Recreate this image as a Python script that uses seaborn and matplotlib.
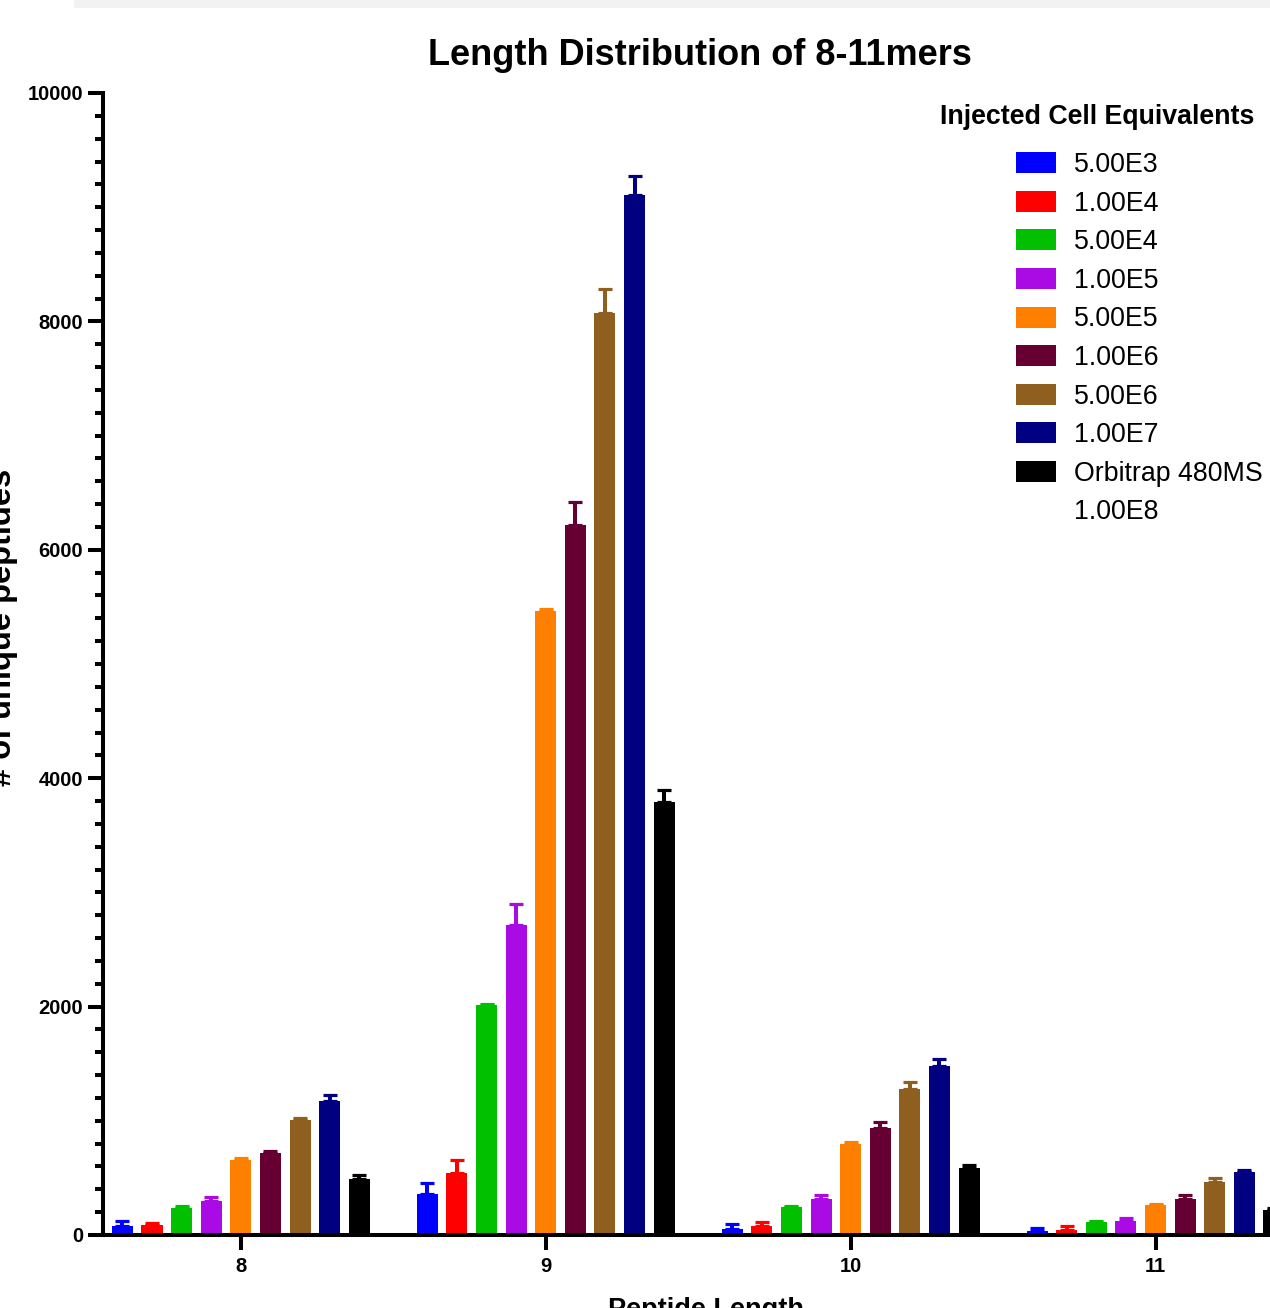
import numpy as np
import pandas as pd
import matplotlib
matplotlib.use("Agg")
import matplotlib.pyplot as plt
import seaborn as sns
from matplotlib.patches import Patch, Rectangle
from matplotlib.ticker import MultipleLocator

# Categories (x axis) and series (legend)
lengths = ["8", "9", "10", "11"]
series = ["5.00E3", "1.00E4", "5.00E4", "1.00E5", "5.00E5",
          "1.00E6", "5.00E6", "1.00E7", "Orbitrap 480MS\n1.00E8"]
colors = ["#0000FF", "#FF0000", "#00C000", "#AA0AE4", "#FF8000",
          "#660033", "#8F5F20", "#000080", "#000000"]

# Mean number of unique peptides per series, for lengths 8, 9, 10, 11
counts = [
    [80, 360, 55, 38],
    [85, 545, 80, 45],
    [235, 2010, 245, 115],
    [300, 2715, 312, 125],
    [660, 5465, 800, 265],
    [720, 6220, 940, 318],
    [1010, 8070, 1276, 462],
    [1175, 9110, 1480, 548],
    [490, 3795, 590, 220],
]
# Upper error (SD) per series, same order
errors = [
    [40, 95, 40, 25],
    [20, 110, 30, 30],
    [15, 15, 10, 10],
    [30, 185, 38, 25],
    [10, 15, 10, 10],
    [12, 200, 47, 35],
    [12, 210, 60, 38],
    [50, 165, 64, 23],
    [35, 105, 26, 20],
]

rows = []
for s, c_row, e_row in zip(series, counts, errors):
    for L, c, e in zip(lengths, c_row, e_row):
        rows.append({"length": L, "series": s, "count": c, "err": e})
df = pd.DataFrame(rows)

sns.set_style("ticks")
plt.rcParams["font.family"] = ["Liberation Sans", "DejaVu Sans"]
for key in ["text.color", "axes.labelcolor", "axes.edgecolor", "xtick.color", "ytick.color"]:
    plt.rcParams[key] = "black"

W, H = 1270, 1308
fig = plt.figure(figsize=(W / 100, H / 100), dpi=100)

# light grey strip at the very top (screenshot edge)
fig.add_artist(Rectangle((74 / W, 1 - 8 / H), 1, 8 / H, transform=fig.transFigure,
                         facecolor="#f2f2f2", edgecolor="none"))

ax = fig.add_axes([103 / W, (H - 1235) / H, (1308 - 103) / W, 1142 / H])

sns.barplot(data=df, x="length", y="count", hue="series", order=lengths,
            hue_order=series, palette=colors, saturation=1, width=0.874, gap=0.29,
            linewidth=0, errorbar=None, legend=False, ax=ax)

# upward-only error bars in the bar colour
for cont, s, col in zip(ax.containers, series, colors):
    sub = df[df["series"] == s].set_index("length")
    xs, hs, es = [], [], []
    for bar in cont:
        xc = bar.get_x() + bar.get_width() / 2
        xs.append(xc)
        hs.append(bar.get_height())
        es.append(sub.loc[lengths[int(round(xc))], "err"])
    ax.errorbar(xs, hs, yerr=[np.zeros(len(es)), es], fmt="none", ecolor=col,
                elinewidth=2.9, capsize=4.7, capthick=2.3, zorder=3)

ax.set_xlim(-0.452, 3.5)
ax.set_ylim(0, 10000)
ax.yaxis.set_major_locator(MultipleLocator(2000))
ax.yaxis.set_minor_locator(MultipleLocator(200))

sns.despine(ax=ax)
for side in ["left", "bottom"]:
    ax.spines[side].set_linewidth(2.9)
ax.tick_params(which="major", length=10.8, width=2.9, labelsize=14.5, pad=3.5)
ax.tick_params(axis="x", which="major", pad=5)
ax.tick_params(which="minor", length=6, width=2.9)
plt.setp(ax.get_xticklabels() + ax.get_yticklabels(), fontweight="bold")

ax.set_title("Length Distribution of 8-11mers", fontsize=26, fontweight="bold", pad=20)
ax.title.set_x((700 - 103) / 1205)
ax.set_xlabel("Peptide Length", fontsize=19.5, fontweight="bold")
ax.xaxis.set_label_coords(0.5, (1235 - 1297) / 1142)
ax.set_ylabel("# of unique peptides", fontsize=23.5, fontweight="bold")
ax.yaxis.set_label_coords((18 - 103) / 1205, (1235 - 627) / 1142)

# legend: title as separate text, two-line last label split into two rows
fig.text(940 / W, 1 - 117 / H, "Injected Cell Equivalents", fontsize=19.3,
         fontweight="bold", ha="left", va="center")
handles = [Patch(facecolor=c, edgecolor="none") for c in colors]
labels = series[:-1] + series[-1].split("\n")
handles.append(Patch(facecolor="none", edgecolor="none"))
fig.legend(handles, labels, loc="upper left", bbox_to_anchor=(1016 / W, 1 - 152 / H),
           frameon=False, fontsize=19.3, handlelength=1.5, handleheight=0.83,
           handletextpad=0.68, labelspacing=0.47, borderpad=0, borderaxespad=0)

fig.savefig("out.png", dpi=100)
